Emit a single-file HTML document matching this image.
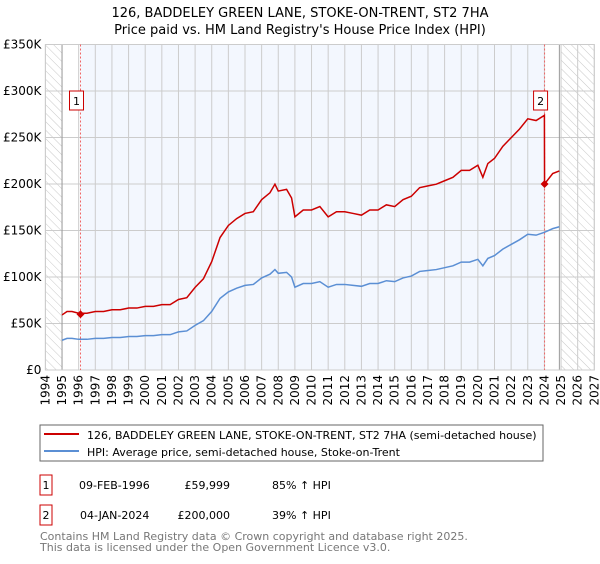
<!DOCTYPE html>
<html><head><meta charset="utf-8"><style>
body{margin:0;background:#fff;width:600px;height:560px;overflow:hidden;font-family:"DejaVu Sans","Liberation Sans",sans-serif}
svg text{font-family:"DejaVu Sans","Liberation Sans",sans-serif}
</style></head><body>
<svg id="c" width="600" height="560">
<defs><pattern id="h" width="6" height="6" patternUnits="userSpaceOnUse" patternTransform="rotate(-45)"><line x1="0" y1="0" x2="0" y2="6" stroke="#bbb" stroke-width="0.8"/></pattern></defs>
<text x="300" y="17" text-anchor="middle" font-size="13">126, BADDELEY GREEN LANE, STOKE-ON-TRENT, ST2 7HA</text>
<text x="300" y="34" text-anchor="middle" font-size="13">Price paid vs. HM Land Registry's House Price Index (HPI)</text>
<g id="plot"></g>
<rect x="40" y="425" width="503" height="36" fill="#fff" stroke="#666"/>
<line x1="44" y1="434" x2="79" y2="434" stroke="#cc0000" stroke-width="2"/>
<text x="87" y="439" font-size="11">126, BADDELEY GREEN LANE, STOKE-ON-TRENT, ST2 7HA (semi-detached house)</text>
<line x1="44" y1="451" x2="79" y2="451" stroke="#5b8fd4" stroke-width="2"/>
<text x="87" y="456" font-size="11">HPI: Average price, semi-detached house, Stoke-on-Trent</text>
<g font-size="11">
<rect x="40" y="475" width="12" height="20" fill="#fff" stroke="#cc0000"/><text x="46" y="489" text-anchor="middle">1</text>
<text x="79" y="489">09-FEB-1996</text><text x="230" y="489" text-anchor="end">£59,999</text><text x="272" y="489">85% ↑ HPI</text>
<rect x="40" y="505" width="12" height="20" fill="#fff" stroke="#cc0000"/><text x="46" y="519" text-anchor="middle">2</text>
<text x="80" y="519">04-JAN-2024</text><text x="230" y="519" text-anchor="end">£200,000</text><text x="272" y="519">39% ↑ HPI</text>
</g>
<text x="40" y="540" font-size="11" fill="#777">Contains HM Land Registry data © Crown copyright and database right 2025.</text>
<text x="40" y="551" font-size="11" fill="#777">This data is licensed under the Open Government Licence v3.0.</text>
</svg>
<script>
const hpiYears=[1995,1995.3,1995.6,1996,1996.5,1997,1997.5,1998,1998.5,1999,1999.5,2000,2000.5,2001,2001.5,2002,2002.5,2003,2003.5,2004,2004.5,2005,2005.5,2006,2006.5,2007,2007.5,2007.8,2008,2008.5,2008.8,2009,2009.5,2010,2010.5,2011,2011.5,2012,2012.5,2013,2013.5,2014,2014.5,2015,2015.5,2016,2016.5,2017,2017.5,2018,2018.5,2019,2019.5,2020,2020.3,2020.6,2021,2021.5,2022,2022.5,2023,2023.5,2024,2024.5,2024.9];
const hpiValues=[32,34,34,33,33,34,34,35,35,36,36,37,37,38,38,41,42,48,53,63,77,84,88,91,92,99,103,108,104,105,100,89,93,93,95,89,92,92,91,90,93,93,96,95,99,101,106,107,108,110,112,116,116,119,112,120,123,130,135,140,146,145,148,152,154];
const sale1Ratio=1.85, sale2Ratio=1.39, sale2Year=2024.01;
const sales=[{year:1996.11,price:59999,label:"1"},{year:2024.01,price:200000,label:"2"}];
const yTicks=[0,50,100,150,200,250,300,350];
const yLabels=["£0","£50K","£100K","£150K","£200K","£250K","£300K","£350K"];
const xTicks=[1994,1995,1996,1997,1998,1999,2000,2001,2002,2003,2004,2005,2006,2007,2008,2009,2010,2011,2012,2013,2014,2015,2016,2017,2018,2019,2020,2021,2022,2023,2024,2025,2026,2027];
const L=45.4,R=594.3,T=44.5,B=370;
const x=v=>L+(v-1994)/33*(R-L), y=v=>B-v/350*(B-T);
const g=document.getElementById('plot');const NS='http://www.w3.org/2000/svg';
function mk(t,a,p){const e=document.createElementNS(NS,t);for(const k in a)e.setAttribute(k,a[k]);(p||g).appendChild(e);return e;}
let e;
e=mk('rect',{x:x(sales[0].year),y:T,width:x(sales[1].year)-x(sales[0].year),height:B-T,fill:'#f3f7fe'});

e=mk('rect',{x:L,y:T,width:x(1995)-L,height:B-T,fill:'url(#h)'});

e=mk('rect',{x:x(2025),y:T,width:R-x(2025),height:B-T,fill:'url(#h)'});

yTicks.forEach((v,i)=>{mk('line',{x1:L,x2:R,y1:y(v),y2:y(v),stroke:'#ccc'});
 e=mk('text',{x:L-4,y:y(v)+4,'text-anchor':'end','font-size':12});e.textContent=yLabels[i];
 });
xTicks.forEach(v=>{mk('line',{x1:x(v),x2:x(v),y1:T,y2:B,stroke:'#ccc'});
 e=mk('text',{transform:`translate(${x(v)+4},${B+5}) rotate(-90)`,'text-anchor':'end','font-size':12});e.textContent=v;
 });
mk('line',{x1:x(1995),x2:x(1995),y1:T,y2:B,stroke:'#999'});
mk('line',{x1:x(2024.9),x2:x(2024.9),y1:T,y2:B,stroke:'#999'});
e=mk('rect',{x:L,y:T,width:R-L,height:B-T,fill:'none',stroke:'#ccc'});
sales.forEach(s=>{e=mk('line',{x1:x(s.year),x2:x(s.year),y1:T,y2:B,stroke:'#e66','stroke-dasharray':'2,2'});
 });
e=mk('polyline',{points:hpiYears.map((t,i)=>x(t)+','+y(hpiValues[i])).join(' '),fill:'none',stroke:'#5b8fd4','stroke-width':1.5});

const rp=[];hpiYears.forEach((t,i)=>{if(t<sale2Year)rp.push([t,hpiValues[i]*sale1Ratio]);});
rp.push([sale2Year,200]);hpiYears.forEach((t,i)=>{if(t>sale2Year)rp.push([t,hpiValues[i]*sale2Ratio]);});
e=mk('polyline',{points:rp.map(p=>x(p[0])+','+y(p[1])).join(' '),fill:'none',stroke:'#cc0000','stroke-width':1.5});

sales.forEach(s=>{const cx=x(s.year),cy=y(s.price/1000);
 e=mk('polygon',{points:`${cx},${cy-4} ${cx+4},${cy} ${cx},${cy+4} ${cx-4},${cy}`,fill:'#cc0000'});
 
 e=mk('rect',{x:cx-11,y:91,width:14,height:19,fill:'#fff',stroke:'#cc0000'});
 
 e=mk('text',{x:cx-4,y:105,'text-anchor':'middle','font-size':11});e.textContent=s.label;
 });
</script>
</body></html>
